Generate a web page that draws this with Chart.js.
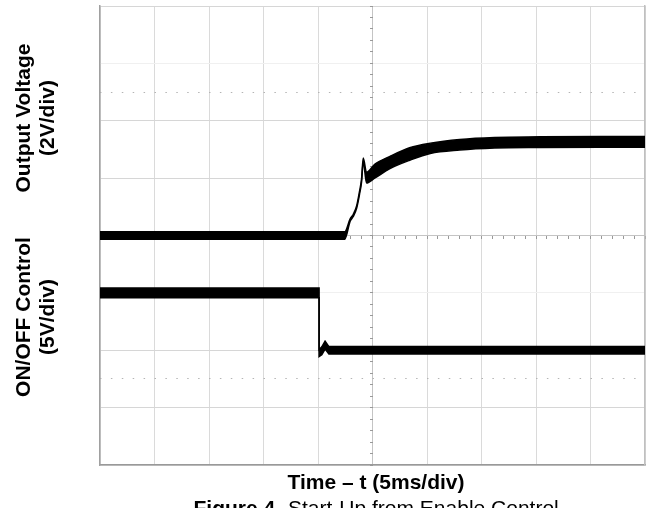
<!DOCTYPE html>
<html>
<head>
<meta charset="utf-8">
<script src="https://cdn.jsdelivr.net/npm/chart.js@4.4.1/dist/chart.umd.min.js"></script>
<style>
  html, body { margin: 0; padding: 0; background: #fff; }
  #wrap { width: 647px; height: 508px; position: relative; }
</style>
</head>
<body>
<div id="wrap"><canvas id="chart"></canvas></div>
<script>
// scope trace, time in ms (5 ms/div)
// each trace is drawn as a noisy band: upper and lower edge
const outTime  = [0, 22.45, 22.95, 23.25, 23.55, 23.8, 24.0, 24.15, 24.45, 25.2, 26.6, 28.4, 30.3, 33.0, 36.2, 40.4, 45.9, 50];
const outUpper = [0.13, 0.13, 0.58, 0.75, 1.04, 1.52, 1.98, 2.7, 2.2, 2.48, 2.76, 3.06, 3.22, 3.35, 3.42, 3.44, 3.45, 3.45];
const outLower = [-0.13, -0.13, 0.5, 0.67, 0.96, 1.42, 1.88, 2.58, 1.83, 2.0, 2.33, 2.62, 2.86, 2.98, 3.05, 3.07, 3.08, 3.08];

const ctlTime  = [0, 20.1, 20.1, 20.35, 20.65, 21.0, 50];
const ctlUpper = [5.42, 5.42, 0.05, 0.3, 0.8, 0.32, 0.32];
const ctlLower = [4.58, 4.58, -0.55, -0.4, 0.1, -0.32, -0.32];

const xTitle = "Time \u2013 t (5ms/div)";
const outTitle = ["Output Voltage", "(2V/div)"];
const ctlTitle = ["ON/OFF Control", "(5V/div)"];
const captionBold = "Figure 4.";
const captionText = "Start-Up from Enable Control";

const FONT = "'Liberation Sans', Arial, sans-serif";

function pts(xs, ys) {
  return xs.map((t, i) => ({ x: t, y: ys[i] }));
}

function band(data, yAxis, fill, smooth) {
  return {
    data: data,
    yAxisID: yAxis,
    borderColor: "#000",
    backgroundColor: "#000",
    borderWidth: 1.5,
    pointRadius: 0,
    cubicInterpolationMode: smooth ? "monotone" : "default",
    tension: 0,
    fill: fill
  };
}

// axis names and the figure caption
const labels = {
  id: "labels",
  afterDraw(chart) {
    const ctx = chart.ctx;
    ctx.save();
    ctx.fillStyle = "#000";
    ctx.font = "bold 21px " + FONT;
    ctx.textAlign = "center";
    ctx.textBaseline = "alphabetic";

    const sideText = (lines, cy) => {
      ctx.save();
      ctx.translate(30, cy);
      ctx.rotate(-Math.PI / 2);
      ctx.fillText(lines[0], 0, 0);
      ctx.fillText(lines[1], 0, 24);
      ctx.restore();
    };
    sideText(outTitle, 118);
    sideText(ctlTitle, 317);

    ctx.fillText(xTitle, 376, 489);

    ctx.textAlign = "right";
    ctx.fillText(captionBold, 281, 515);
    ctx.textAlign = "left";
    ctx.font = "21px " + FONT;
    ctx.fillText(captionText, 288, 515);
    ctx.restore();
  }
};

new Chart(document.getElementById("chart"), {
  type: "line",
  data: {
    datasets: [
      band(pts(outTime, outUpper), "yOut", false, true),
      band(pts(outTime, outLower), "yOut", "-1", true),
      band(pts(ctlTime, ctlUpper), "yCtl", false, false),
      band(pts(ctlTime, ctlLower), "yCtl", "-1", false)
    ]
  },
  options: {
    responsive: true,
    maintainAspectRatio: false,
    animation: false,
    layout: { padding: { left: 100, top: 6, right: 2, bottom: 43 } },
    plugins: {
      legend: { display: false },
      tooltip: { enabled: false }
    },
    scales: {
      x: {
        type: "linear",
        min: 0,
        max: 50,
        ticks: { display: false, stepSize: 5 },
        grid: {
          drawTicks: false,
          color: (c) => (c.tick && c.tick.value === 25 ? "#c4c4c4" : "#dadada")
        },
        border: { color: "#999", width: 1.5 }
      },
      yOut: {
        type: "linear",
        position: "left",
        min: -8,
        max: 8,
        ticks: { display: false, stepSize: 2 },
        grid: {
          drawTicks: false,
          color: (c) => {
            const v = c.tick && c.tick.value;
            if (v === 6 || v === -2) return "#f0f0f0";
            if (v === 0) return "#c4c4c4";
            return "#d6d6d6";
          }
        },
        border: { color: "#a0a0a0", width: 1.5 }
      },
      yCtl: {
        type: "linear",
        position: "right",
        min: -10,
        max: 30,
        afterBuildTicks: (s) => { s.ticks = [{ value: -2.5 }, { value: 22.5 }]; },
        ticks: { display: false },
        grid: { drawTicks: false, color: "#b4b4b4", lineWidth: 1 },
        border: { color: "#c0c0c0", width: 1.5, dash: [1.5, 9.4] }
      },
      xMinor: {
        type: "linear",
        position: { yOut: 0 },
        min: 0,
        max: 50,
        ticks: { display: false, stepSize: 1 },
        grid: { drawOnChartArea: false, drawTicks: true, tickLength: 3, tickColor: "#999" },
        border: { display: false }
      },
      yMinor: {
        type: "linear",
        position: { x: 25 },
        min: -8,
        max: 8,
        ticks: { display: false, stepSize: 0.4 },
        grid: { drawOnChartArea: false, drawTicks: true, tickLength: 3, tickColor: "#999" },
        border: { display: false }
      }
    }
  },
  plugins: [labels]
});
</script>
</body>
</html>
